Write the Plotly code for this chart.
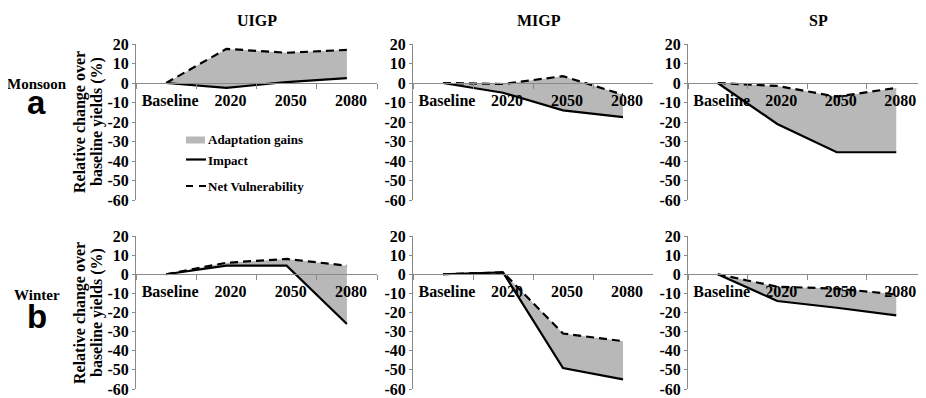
import plotly.graph_objects as go

# The page body keeps its default 8px margin, so the figure is drawn 8px in.
OFF = 8
W, H = 926 - OFF, 398 - OFF

categories = ["Baseline", "2020", "2050", "2080"]
regions = ["UIGP", "MIGP", "SP"]
seasons = ["Monsoon", "Winter"]
season_letters = ["a", "b"]
legend_labels = ["Adaptation gains", "Impact", "Net Vulnerability"]

mon_uigp_impact = [0, -2.5, 0.5, 2.5]
mon_uigp_net = [0, 17.5, 15.5, 17]
mon_migp_impact = [0, -5, -14, -17.5]
mon_migp_net = [0, -0.5, 3.5, -6]
mon_sp_impact = [0, -21, -35.5, -35.5]
mon_sp_net = [0, -1.5, -7, -2.5]

win_uigp_impact = [0, 4.5, 4.5, -26]
win_uigp_net = [0, 6, 8, 4.5]
win_migp_impact = [0, 1, -49, -55]
win_migp_net = [0, 1, -31, -35]
win_sp_impact = [0, -14, -17.5, -21.5]
win_sp_net = [0, -6.5, -7.5, -10.5]

y_tickvals = [20, 10, 0, -10, -20, -30, -40, -50, -60]
y_ticktext = ["20", "10", "0", "-10", "-20", "-30", "-40", "-50", "-60"]

panels = [
    [(mon_uigp_impact, mon_uigp_net), (mon_migp_impact, mon_migp_net), (mon_sp_impact, mon_sp_net)],
    [(win_uigp_impact, win_uigp_net), (win_migp_impact, win_migp_net), (win_sp_impact, win_sp_net)],
]

SERIF = "Liberation Serif, Times New Roman, serif"
SANS = "Liberation Sans, Arial, sans-serif"
FILL = "#b8b8b8"
AXC = "#8a8a8a"

x_dom_px = [(136, 377), (413, 653), (688, 926)]
y_dom_px = [(44, 200), (236, 389)]


def px_x(v):
    return (v - OFF) / W


def px_y(v):
    return 1 - (v - OFF) / H


fig = go.Figure()
layout = dict(
    width=W, height=H,
    margin=dict(l=0, r=0, t=0, b=0, autoexpand=False),
    paper_bgcolor="white", plot_bgcolor="white",
    showlegend=False,
)

annotations = []
shapes = []
idx = 0
for r in range(2):
    for c in range(3):
        idx += 1
        sfx = "" if idx == 1 else str(idx)
        xa = "x" + sfx
        ya = "y" + sfx
        impact, net = panels[r][c]
        fig.add_trace(go.Scatter(x=categories, y=impact, xaxis=xa, yaxis=ya, mode="lines",
                                 line=dict(width=0, color=FILL), hoverinfo="skip"))
        fig.add_trace(go.Scatter(x=categories, y=net, xaxis=xa, yaxis=ya, mode="lines",
                                 fill="tonexty", fillcolor=FILL, line=dict(width=0, color=FILL),
                                 name=legend_labels[0]))
        fig.add_trace(go.Scatter(x=categories, y=impact, xaxis=xa, yaxis=ya, mode="lines",
                                 line=dict(width=2.2, color="black"), name=legend_labels[1]))
        fig.add_trace(go.Scatter(x=categories, y=net, xaxis=xa, yaxis=ya, mode="lines",
                                 line=dict(width=2.2, color="black", dash="8px,5px"),
                                 name=legend_labels[2]))

        x0, x1 = x_dom_px[c]
        yt, yb = y_dom_px[r]
        ydom = [px_y(yb), px_y(yt)]
        zero_pos = ydom[0] + 0.75 * (ydom[1] - ydom[0])
        layout["xaxis" + sfx] = dict(
            domain=[px_x(x0), min(1.0, px_x(x1))], anchor="free", position=zero_pos,
            type="category", range=[-0.5, 3.5], automargin=False,
            showline=True, linecolor=AXC, linewidth=1,
            ticks="outside", tickson="boundaries", ticklen=5, tickcolor=AXC,
            tickangle=0, ticklabelshift=4, ticklabelstandoff=3,
            tickfont=dict(family=SERIF, size=16, weight="bold", color="black"),
            showgrid=False, zeroline=False, fixedrange=True,
        )
        layout["yaxis" + sfx] = dict(
            domain=ydom, anchor=xa, range=[-60, 20], automargin=False,
            tickvals=y_tickvals, ticktext=y_ticktext,
            showline=True, linecolor=AXC, linewidth=1,
            ticks="outside", ticklen=3, tickcolor=AXC,
            tickfont=dict(family=SERIF, size=16, weight="bold", color="black"),
            showgrid=False, zeroline=False, fixedrange=True,
        )

title_pos = [(257, 20), (539, 20), (818, 20)]
for name, (tx, ty) in zip(regions, title_pos):
    annotations.append(dict(text=name, x=px_x(tx), y=px_y(ty), xref="paper", yref="paper",
                            showarrow=False, xanchor="center", yanchor="middle",
                            font=dict(family=SERIF, size=16, weight="bold", color="black")))

row_centers = [122, 313]
season_pos = [(37, 84), (37, 295)]
letter_pos = [(36, 102), (37, 316)]
for r in range(2):
    yc = row_centers[r]
    annotations.append(dict(text="Relative change over", x=px_x(80), y=px_y(yc), xref="paper", yref="paper",
                            showarrow=False, textangle=-90, xanchor="center", yanchor="middle",
                            font=dict(family=SERIF, size=16, weight="bold", color="black")))
    annotations.append(dict(text="baseline yields (%)", x=px_x(97), y=px_y(yc), xref="paper", yref="paper",
                            showarrow=False, textangle=-90, xanchor="center", yanchor="middle",
                            font=dict(family=SERIF, size=16, weight="bold", color="black")))
    sx, sy = season_pos[r]
    annotations.append(dict(text=seasons[r], x=px_x(sx), y=px_y(sy), xref="paper", yref="paper",
                            showarrow=False, xanchor="center", yanchor="middle",
                            font=dict(family=SERIF, size=15, weight="bold", color="black")))
    lx, ly = letter_pos[r]
    annotations.append(dict(text=season_letters[r], x=px_x(lx), y=px_y(ly), xref="paper", yref="paper",
                            showarrow=False, xanchor="center", yanchor="middle",
                            font=dict(family=SANS, size=33, weight="bold", color="black")))

# legend (drawn manually inside the UIGP monsoon panel)
shapes.append(dict(type="rect", xref="paper", yref="paper",
                   x0=px_x(186), x1=px_x(205), y0=px_y(143.5), y1=px_y(136.5),
                   fillcolor=FILL, line=dict(width=0)))
shapes.append(dict(type="line", xref="paper", yref="paper",
                   x0=px_x(186), x1=px_x(206), y0=px_y(159.5), y1=px_y(159.5),
                   line=dict(width=2.2, color="black")))
shapes.append(dict(type="line", xref="paper", yref="paper",
                   x0=px_x(186), x1=px_x(206), y0=px_y(186), y1=px_y(186),
                   line=dict(width=2.2, color="black", dash="7px,6px")))
leg_y = [139.5, 161, 186.5]
for lab, ly in zip(legend_labels, leg_y):
    annotations.append(dict(text=lab, x=px_x(206), y=px_y(ly), xref="paper", yref="paper",
                            showarrow=False, xanchor="left", yanchor="middle",
                            font=dict(family=SERIF, size=13, weight="bold", color="black")))

layout["annotations"] = annotations
layout["shapes"] = shapes
fig.update_layout(**layout)
fig.write_html("out.html")
